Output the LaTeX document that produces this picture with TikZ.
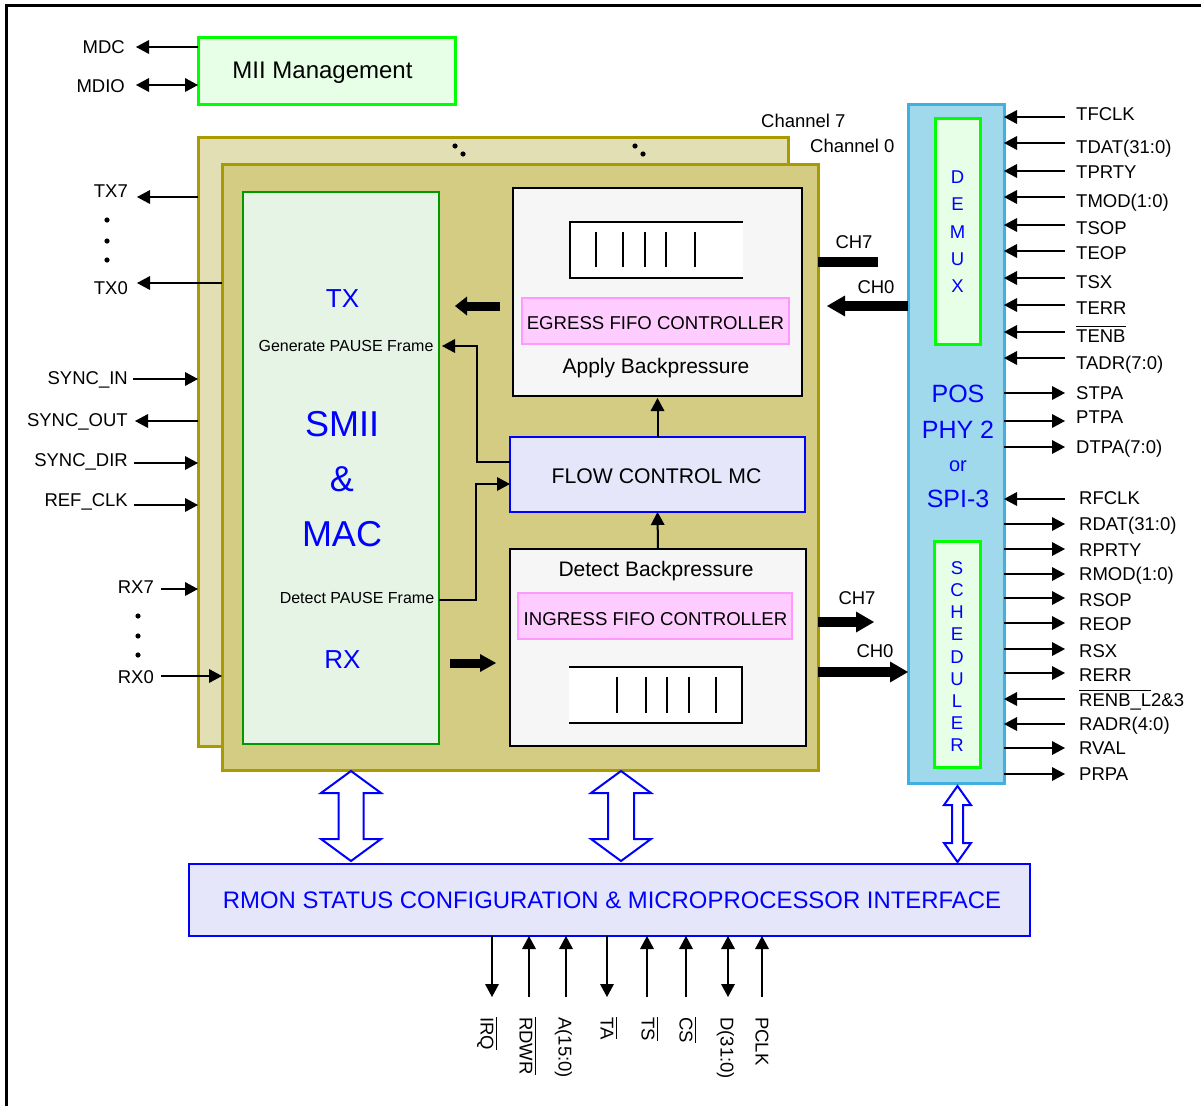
\documentclass[tikz,border=0pt]{standalone}
\usepackage{fontspec}
\setmainfont{Liberation Sans}
\usetikzlibrary{arrows.meta}

\definecolor{chanLight}{RGB}{227,223,180}
\definecolor{chanDark}{RGB}{211,204,130}
\definecolor{chanEdge}{RGB}{168,154,0}
\definecolor{macFill}{RGB}{230,244,230}
\definecolor{macEdge}{RGB}{0,153,0}
\definecolor{mintFill}{RGB}{230,255,230}
\definecolor{limeEdge}{RGB}{0,255,0}
\definecolor{phyFill}{RGB}{160,216,236}
\definecolor{phyEdge}{RGB}{64,176,224}
\definecolor{fifoFill}{RGB}{246,246,246}
\definecolor{pinkFill}{RGB}{255,204,255}
\definecolor{pinkEdge}{RGB}{255,153,255}
\definecolor{lavFill}{RGB}{230,230,250}
\definecolor{pureBlue}{RGB}{0,0,255}

\newcommand\setfs[1]{\fontsize{#1}{#1}\selectfont}
% active-low signal names carry a bar over the text
\newcommand\ovl[1]{\vbox{\hrule height 1.5pt\kern 2.5pt\hbox{#1}}}

\tikzset{
  box/.style={rectangle, inner sep=0pt, outer sep=0pt, anchor=north west},
  lbl/.style={inner sep=0pt, font=\setfs{18.5}},
  bluetxt/.style={inner sep=0pt, text=pureBlue},
  wire/.style={line width=2pt},
  tin/.style={wire, {Triangle[length=13pt,width=14pt,line width=0pt]}-},
  tout/.style={wire, -{Triangle[length=13pt,width=14pt,line width=0pt]}},
  tboth/.style={wire, {Triangle[length=13pt,width=14pt,line width=0pt]}-{Triangle[length=13pt,width=14pt,line width=0pt]}},
  bus/.style={line width=10pt, -{Triangle[length=18pt,width=21pt,line width=0pt]}},
  hollow/.style={draw=pureBlue, fill=white, line width=2pt, line join=miter},
}

% signal on the right of the PHY block: name, arrow y, label baseline, text, style, label x
\newcommand\sigR[6]{%
  \coordinate (#1) at (1065,#2);
  \node[lbl, anchor=base west] (#1L) at (#6,#3) {#4};
  \draw[#5] (pos.east |- #1) -- (#1);}
% signal under the processor interface: name, arrow x, label centre x, text, style
\newcommand\sigB[5]{%
  \coordinate (#1) at (#2,997);
  \node[lbl, rotate=-90, anchor=base west] (#1L) at ({#3-6.5},1017) {#4};
  \draw[#5] (rmon.south -| #1) -- (#1);}
% hollow two-way bus arrow: x, top, bottom, shaft half width, head half width, head length
\newcommand\busarrow[6]{%
  \draw[hollow] (#1,#2) -- ({#1+#5},{#2+#6}) -- ({#1+#4},{#2+#6}) -- ({#1+#4},{#3-#6})
    -- ({#1+#5},{#3-#6}) -- (#1,#3) -- ({#1-#5},{#3-#6}) -- ({#1-#4},{#3-#6})
    -- ({#1-#4},{#2+#6}) -- ({#1-#5},{#2+#6}) -- cycle;}

\begin{document}
\begin{tikzpicture}[x=1pt,y=-1pt]
\useasboundingbox (0,0) rectangle (1201,1106);

% frame
\draw[line width=3pt] (6,1106) -- (6,5) -- (1201,5);

% MII management
\node[box, draw=limeEdge, fill=mintFill, line width=3pt, minimum width=257pt, minimum height=67pt] (mii) at (198,37) {};
\node[lbl, font=\setfs{24}, anchor=base] (miiT) at (322.5,78) {MII Management};
\node[lbl, anchor=base east] (mdcL) at (125,53) {MDC};
\coordinate (mdcA) at (136,47);
\draw[tout] (mii.west |- mdcA) -- (mdcA);
\node[lbl, anchor=base east] (mdioL) at (125,92) {MDIO};
\coordinate (mdioA) at (136,85);
\draw[tboth] (mdioA) -- (mii.west |- mdioA);

% channel stack
\node[box, draw=chanEdge, fill=chanLight, line width=3pt, minimum width=590pt, minimum height=609pt] (chback) at (198,137) {};
\fill (455,146) circle (2.6pt) (463,154) circle (2.6pt) (635,146) circle (2.6pt) (643,154) circle (2.6pt);
\node[box, draw=chanEdge, fill=chanDark, line width=3pt, minimum width=596pt, minimum height=606pt] (chfront) at (222,164) {};
\node[lbl, anchor=base west] (ch7T) at (761,127) {Channel 7};
\node[lbl, anchor=base west] (ch0T) at (810,152) {Channel 0};

% SMII & MAC
\node[box, draw=macEdge, fill=macFill, line width=2.5pt, minimum width=196pt, minimum height=552pt] (smii) at (243,192) {};
\node[bluetxt, font=\setfs{26}, anchor=base] (txT) at (342.5,307) {TX};
\node[lbl, font=\setfs{16}, anchor=base] (genT) at (346,351) {Generate PAUSE Frame};
\node[bluetxt, font=\setfs{36}, anchor=base] (smiiT) at (342,436) {SMII};
\node[bluetxt, font=\setfs{36}, anchor=base] (ampT) at (342,491) {\&};
\node[bluetxt, font=\setfs{36}, anchor=base] (macT) at (342,546) {MAC};
\node[lbl, font=\setfs{16}, anchor=base] (detT) at (357,603) {Detect PAUSE Frame};
\node[bluetxt, font=\setfs{26}, anchor=base] (rxT) at (342.5,668) {RX};

% egress FIFO
\node[box, draw, fill=fifoFill, line width=2.5pt, minimum width=289pt, minimum height=208pt] (egress) at (513,188) {};
\node[box, fill=white, minimum width=173pt, minimum height=56pt] (efifo) at (570,222) {};
\draw[line width=2.5pt] (efifo.north east) -- (efifo.north west) -- (efifo.south west) -- (efifo.south east);
\foreach \bx in {596,623,645,666,695} \draw[line width=2.5pt] (\bx,232) -- (\bx,267);
\node[box, draw=pinkEdge, fill=pinkFill, line width=2pt, minimum width=267pt, minimum height=46pt] (ectl) at (522,298) {};
\node[lbl, font=\setfs{18.6}, anchor=base] (ectlT) at (655.5,329) {EGRESS FIFO CONTROLLER};
\node[lbl, font=\setfs{21}, anchor=base] (applyT) at (656,373) {Apply Backpressure};

% flow control
\node[box, draw=pureBlue, fill=lavFill, line width=2.5pt, minimum width=295pt, minimum height=75pt] (flow) at (510,437) {};
\node[lbl, font=\setfs{21.2}, anchor=base] (flowT) at (656.5,483) {FLOW CONTROL MC};

% ingress FIFO
\node[box, draw, fill=fifoFill, line width=2.5pt, minimum width=296pt, minimum height=197pt] (ingress) at (510,549) {};
\node[lbl, font=\setfs{21}, anchor=base] (detBT) at (656,576) {Detect Backpressure};
\node[box, draw=pinkEdge, fill=pinkFill, line width=2pt, minimum width=274pt, minimum height=46pt] (ictl) at (518,593) {};
\node[lbl, font=\setfs{18.6}, anchor=base] (ictlT) at (655.5,625) {INGRESS FIFO CONTROLLER};
\node[box, fill=white, minimum width=173pt, minimum height=56pt] (ififo) at (569,667) {};
\draw[line width=2.5pt] (ififo.north west) -- (ififo.north east) -- (ififo.south east) -- (ififo.south west);
\foreach \bx in {617,646,667,689,716} \draw[line width=2.5pt] (\bx,677) -- (\bx,713);

% control paths
\draw[tout, shorten >=2pt] (flow.north) -- (egress.south);
\draw[tout] (ingress.north) -- (flow.south);
\coordinate (gpA) at (477,462);
\coordinate (gpT) at (442,346);
\draw[tout] (flow.west |- gpA) -- (gpA) |- (gpT);
\coordinate (dpA) at (476,600);
\coordinate (dpB) at (476,484);
\draw[tout] (smii.east |- dpA) -- (dpA) -- (dpB) -- (flow.west |- dpB);

% data paths inside the channel
\coordinate (txS) at (500,306);
\coordinate (txE) at (455,306);
\draw[line width=9pt, -{Triangle[length=12pt,width=19pt,line width=0pt]}] (txS) -- (txE);
\coordinate (rxS) at (450,663);
\coordinate (rxE) at (496,663);
\draw[line width=9pt, -{Triangle[length=16pt,width=18pt,line width=0pt]}] (rxS) -- (rxE);

% POS PHY 2 / SPI-3
\node[box, draw=phyEdge, fill=phyFill, line width=3pt, minimum width=96pt, minimum height=679pt] (pos) at (908,104) {};
\node[box, draw=limeEdge, fill=mintFill, line width=3pt, minimum width=45pt, minimum height=226pt] (demux) at (935,118) {};
\foreach \l [count=\i] in {D,E,M,U,X}
  \node[bluetxt, font=\setfs{18.5}, anchor=base] (dm\i) at (957.5,{177+27.25*(\i-1)+6.6}) {\l};
\node[box, draw=limeEdge, fill=mintFill, line width=3pt, minimum width=46pt, minimum height=226pt] (sched) at (934,541) {};
\foreach \l [count=\i] in {S,C,H,E,D,U,L,E,R}
  \node[bluetxt, font=\setfs{18.5}, anchor=base] (sc\i) at (957,{568+22.125*(\i-1)+6.6}) {\l};
\node[bluetxt, font=\setfs{25}, anchor=base] (posT) at (958,402) {POS};
\node[bluetxt, font=\setfs{25}, anchor=base] (phyT) at (958,438) {PHY 2};
\node[bluetxt, font=\setfs{20}, anchor=base] (orT) at (958,471) {or};
\node[bluetxt, font=\setfs{25}, anchor=base] (spiT) at (958,507) {SPI-3};

% channel buses to and from the PHY block
\coordinate (ech7) at (878,262);
\draw[line width=10pt] (chfront.east |- ech7) -- (ech7);
\node[lbl, anchor=base] (ech7T) at (854,248) {CH7};
\coordinate (ech0) at (827,306);
\draw[bus] (pos.west |- ech0) -- (ech0);
\node[lbl, anchor=base] (ech0T) at (876,293) {CH0};
\coordinate (ich7) at (874,622);
\draw[bus] (chfront.east |- ich7) -- (ich7);
\node[lbl, anchor=base] (ich7T) at (857,604) {CH7};
\coordinate (ich0) at (907,672);
\draw[bus] (chfront.east |- ich0) -- (pos.west |- ich0);
\node[lbl, anchor=base] (ich0T) at (875,657) {CH0};

% left side pins
\coordinate (tx7A) at (137,197);
\draw[tout] (chback.west |- tx7A) -- (tx7A);
\node[lbl, anchor=base east] (tx7L) at (128,197) {TX7};
\foreach \dy in {220,241,260} \fill (107,\dy) circle (2.6pt);
\coordinate (tx0A) at (137,283);
\draw[tout] (chfront.west |- tx0A) -- (tx0A);
\node[lbl, anchor=base east] (tx0L) at (128,294) {TX0};
\coordinate (syncinA) at (133,379);
\draw[tout] (syncinA) -- (chback.west |- syncinA);
\node[lbl, anchor=base east] (syncinL) at (128,384) {SYNC\_IN};
\coordinate (syncoutA) at (135,421);
\draw[tout] (chback.west |- syncoutA) -- (syncoutA);
\node[lbl, anchor=base east] (syncoutL) at (128,426) {SYNC\_OUT};
\coordinate (syncdirA) at (134,463);
\draw[tout] (syncdirA) -- (chback.west |- syncdirA);
\node[lbl, anchor=base east] (syncdirL) at (128,466) {SYNC\_DIR};
\coordinate (refclkA) at (134,505);
\draw[tout] (refclkA) -- (chback.west |- refclkA);
\node[lbl, anchor=base east] (refclkL) at (128,506) {REF\_CLK};
\coordinate (rx7A) at (161,589);
\draw[tout] (rx7A) -- (chback.west |- rx7A);
\node[lbl, anchor=base east] (rx7L) at (154,593) {RX7};
\foreach \dy in {616,636,655} \fill (138,\dy) circle (2.6pt);
\coordinate (rx0A) at (161,676);
\draw[tout] (rx0A) -- (chfront.west |- rx0A);
\node[lbl, anchor=base east] (rx0L) at (154,683) {RX0};

% right side pins
\sigR{tfclk}{117}{120.5}{TFCLK}{tin}{1076}
\sigR{tdat}{143}{153.5}{TDAT(31:0)}{tin}{1076}
\sigR{tprty}{171}{178.5}{TPRTY}{tin}{1076}
\sigR{tmod}{197}{207.5}{TMOD(1:0)}{tin}{1076}
\sigR{tsop}{225}{234.5}{TSOP}{tin}{1076}
\sigR{teop}{251}{259.5}{TEOP}{tin}{1076}
\sigR{tsx}{278}{288.5}{TSX}{tin}{1076}
\sigR{terr}{305}{314.5}{TERR}{tin}{1076}
\sigR{tenb}{332}{342.5}{\ovl{TENB}}{tin}{1076}
\sigR{tadr}{358}{369.5}{TADR(7:0)}{tin}{1076}
\sigR{stpa}{393}{399.5}{STPA}{tout}{1076}
\sigR{ptpa}{421}{423.5}{PTPA}{tout}{1076}
\sigR{dtpa}{447}{453.5}{DTPA(7:0)}{tout}{1076}
\sigR{rfclk}{499}{504.5}{RFCLK}{tin}{1079}
\sigR{rdat}{524}{530.5}{RDAT(31:0)}{tout}{1079}
\sigR{rprty}{549}{556.5}{RPRTY}{tout}{1079}
\sigR{rmod}{574}{580.5}{RMOD(1:0)}{tout}{1079}
\sigR{rsop}{598}{606.5}{RSOP}{tout}{1079}
\sigR{reop}{623}{630.5}{REOP}{tout}{1079}
\sigR{rsx}{649}{657.5}{RSX}{tout}{1079}
\sigR{rerr}{673}{681.5}{RERR}{tout}{1079}
\sigR{renb}{699}{706.5}{\ovl{RENB\_L}2\&3}{tin}{1079}
\sigR{radr}{724}{730.5}{RADR(4:0)}{tin}{1079}
\sigR{rval}{748}{754.5}{RVAL}{tout}{1079}
\sigR{prpa}{774}{780.5}{PRPA}{tout}{1079}

% RMON / microprocessor interface
\node[box, draw=pureBlue, fill=lavFill, line width=2.5pt, minimum width=841pt, minimum height=72pt] (rmon) at (189,864) {};
\node[bluetxt, font=\setfs{23.9}, anchor=base] (rmonT) at (612,908) {RMON STATUS CONFIGURATION \& MICROPROCESSOR INTERFACE};

% register buses
\busarrow{351}{771}{861}{12.5}{30}{22}
\busarrow{621}{771}{861}{13}{30}{22}
\busarrow{957.5}{786}{862}{5.5}{13.5}{19}

% processor pins
\sigB{irq}{492}{487}{\ovl{IRQ}}{tout}
\sigB{rdwr}{529}{526}{\ovl{RDWR}}{tin}
\sigB{addr}{566}{565}{A(15:0)}{tin}
\sigB{ta}{607}{607}{\ovl{TA}}{tout}
\sigB{ts}{647}{648}{\ovl{TS}}{tin}
\sigB{cs}{686}{686}{\ovl{CS}}{tin}
\sigB{data}{728}{727}{D(31:0)}{tboth}
\sigB{pclk}{762}{762}{PCLK}{tin}
\end{tikzpicture}
\end{document}
